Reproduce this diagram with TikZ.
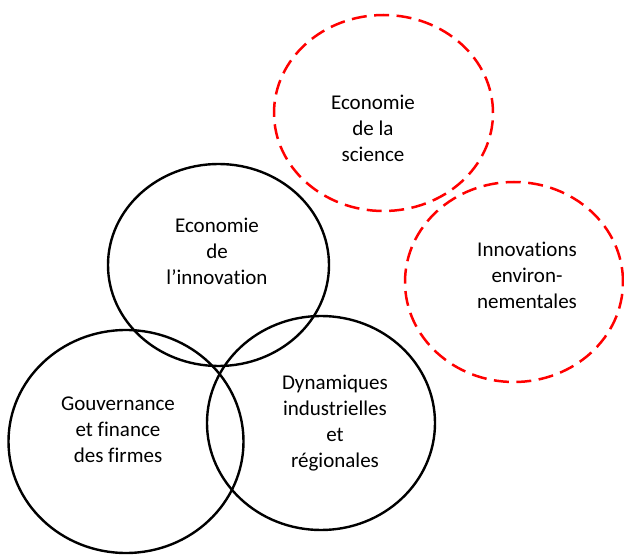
\documentclass[tikz,border=0pt]{standalone}
\usepackage{fontspec}
\setmainfont[Ligatures={NoCommon}]{Carlito}
\usetikzlibrary{shapes.geometric}
\begin{document}
\begin{tikzpicture}[x=1pt,y=-1pt,
  circ/.style={ellipse, draw=black, line width=2.4pt, inner sep=0pt, outer sep=0pt},
  dcirc/.style={ellipse, draw=red, line width=2.5pt, dash pattern=on 15pt off 7.5pt, inner sep=0pt, outer sep=0pt},
  lbl/.style={align=center, inner sep=0pt, font=\fontsize{21}{26}\selectfont}]
\useasboundingbox (0,0) rectangle (624,556);
\node[dcirc, minimum width=219pt, minimum height=196pt] (sci) at (383.5,113) {};
\node[dcirc, minimum width=218pt, minimum height=200pt] (env) at (514,282) {};
\node[circ, minimum width=221pt, minimum height=202pt] (inno) at (218.5,265) {};
\node[circ, minimum width=235pt, minimum height=223pt] (gouv) at (126,441.5) {};
\node[circ, minimum width=228pt, minimum height=214pt] (dyn) at (321,423) {};
\node[lbl] (tsci) at (373,128.5) {Economie\\de la\\science};
\node[lbl] (tenv) at (527,275) {Innovations\\environ-\\nementales};
\node[lbl] (tinno) at (217,251) {Economie\\de\\l’innovation};
\node[lbl] (tgouv) at (118,429.5) {Gouvernance\\et finance\\des firmes};
\node[lbl] (tdyn) at (335,423.5) {Dynamiques\\industrielles\\et\\régionales};
\end{tikzpicture}
\end{document}
